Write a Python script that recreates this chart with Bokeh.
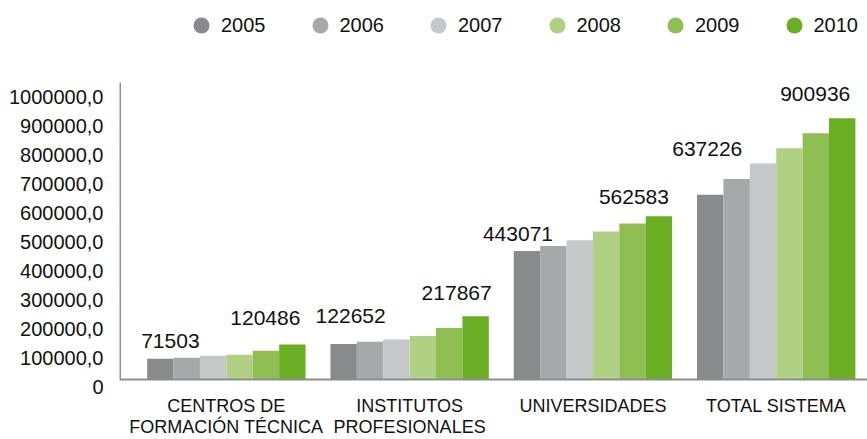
from bokeh.plotting import figure
from bokeh.models import (Range1d, LinearAxis, FixedTicker,
                          CustomJSTickFormatter, Span, Legend, LegendItem, ColumnDataSource)
from bokeh.transform import dodge
from bokeh.core.properties import value
from bokeh.embed import file_html
from bokeh.resources import INLINE

# ---------------- data ----------------
categories = ["CENTROS DE\nFORMACIÓN TÉCNICA", "INSTITUTOS\nPROFESIONALES",
              "UNIVERSIDADES", "TOTAL SISTEMA"]
years = ["2005", "2006", "2007", "2008", "2009", "2010"]
values_2005 = [71503, 122652, 443071, 637226]
values_2006 = [75000, 130000, 460000, 691000]
values_2007 = [81500, 138000, 480000, 745000]
values_2008 = [85000, 150000, 510000, 797000]
values_2009 = [99000, 178000, 538000, 849000]
values_2010 = [120486, 217867, 562583, 900936]
series = [values_2005, values_2006, values_2007, values_2008, values_2009, values_2010]
y_ticks = list(range(0, 1000001, 100000))

# bars carrying a data label: (category index, year index)
labelled = [(0, 0), (0, 5), (1, 0), (1, 5), (2, 0), (2, 5), (3, 0), (3, 5)]

# ---------------- style ----------------
colors = ["#898A8C", "#A7A8AA", "#C6C7C9", "#B0D084", "#8FBF52", "#6AAF23"]
axis_gray = "#8E8E8E"
label_dx = [10, -27, 7, -19, -9, -25, -3, -27]      # screen px
label_dy = [-18, -27, -28, -23, -17, -19, -46, -24]  # screen px
bar_w = 0.144
px_per_unit = 0.29 / 1000
frame_px = 386
y_shift = 7 / px_per_unit            # tick labels sit 7px below their level
y_span = frame_px / px_per_unit
axis_top = 304 / px_per_unit - y_shift
x_lo, x_hi = -0.583, 3.498

p = figure(width=867, height=439, output_backend="svg", toolbar_location=None,
           x_range=Range1d(x_lo, x_hi), y_range=Range1d(-y_shift, y_span - y_shift),
           y_axis_location=None, min_border_left=119, min_border_right=0,
           min_border_top=0, min_border_bottom=53)
p.outline_line_color = None
p.grid.visible = False
p.background_fill_color = "white"

idx = list(range(len(categories)))
for j, yr in enumerate(years):
    src = ColumnDataSource(dict(idx=idx, top=series[j]))
    p.vbar(x=dodge("idx", (j - 2.5) * bar_w), top="top", bottom=0, width=bar_w,
           source=src, fill_color=colors[j], line_color=None)

# axis lines
p.add_layout(Span(location=0, dimension="width", line_color=axis_gray, line_width=2))
p.segment(x0=[x_lo], y0=[0], x1=[x_lo], y1=[axis_top],
          line_color=axis_gray, line_width=3)

# y tick labels (shifted range)
p.extra_y_ranges = {"lab": Range1d(0, y_span)}
yaxis = LinearAxis(y_range_name="lab",
                   ticker=FixedTicker(ticks=y_ticks),
                   formatter=CustomJSTickFormatter(
                       code="return tick == 0 ? '0' : tick.toFixed(1).replace('.', ',')"),
                   axis_line_color=None, major_tick_line_color=None,
                   minor_tick_line_color=None, major_label_standoff=10,
                   major_label_text_font="Liberation Sans",
                   major_label_text_font_size="20px",
                   major_label_text_color="#111111")
p.add_layout(yaxis, "left")

# x axis
xa = p.xaxis[0]
xa.ticker = FixedTicker(ticks=idx)
xa.major_label_overrides = {i: c for i, c in enumerate(categories)}
xa.axis_line_color = None
xa.major_tick_line_color = None
xa.minor_tick_line_color = None
xa.major_label_standoff = 3
xa.major_label_text_font = "Liberation Sans"
xa.major_label_text_font_size = "18px"
xa.major_label_text_line_height = 1.05
xa.major_label_text_color = "#111111"

# data labels
lx, ly, lt = [], [], []
for ci, yj in labelled:
    lx.append(ci + (yj - 2.5) * bar_w)
    ly.append(series[yj][ci])
    lt.append(str(series[yj][ci]))
lsrc = ColumnDataSource(dict(x=lx, y=ly, text=lt, dx=label_dx, dy=label_dy))
p.text(x="x", y="y", text="text", x_offset="dx", y_offset="dy", source=lsrc,
       text_align="center", text_baseline="middle",
       text_font=value("Liberation Sans"), text_font_size="21px", text_color="#111111")

# legend (proxy renderers with a single undrawn NaN point each)
nan = float("nan")
items = []
for j, yr in enumerate(years):
    r = p.scatter(x=[nan], y=[nan], marker="circle", size=16,
                  fill_color=colors[j], line_color=None)
    items.append(LegendItem(label=yr, renderers=[r]))
legend = Legend(items=items, orientation="horizontal", location=(62, 341),
                glyph_width=40, glyph_height=40, label_standoff=0, spacing=34,
                padding=0, margin=0, border_line_color=None, background_fill_alpha=0,
                label_text_font="Liberation Sans", label_text_font_size="20px",
                label_text_color="#111111")
p.add_layout(legend, "center")

open("out.html", "w").write(file_html(p, INLINE))
